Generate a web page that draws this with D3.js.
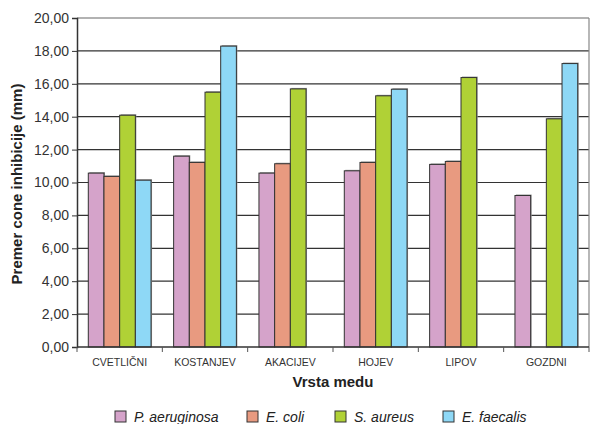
<!DOCTYPE html>
<html>
<head>
<meta charset="utf-8">
<script src="https://cdn.jsdelivr.net/npm/d3@7"></script>
<style>
  body { margin: 0; background: #fff; }
  text { font-family: "Liberation Sans", Arial, sans-serif; }
</style>
</head>
<body>
<div id="myPlot"></div>
<script>
// Set Dimensions
const width = 590;
const height = 424;
const margin = {top: 18, right: 1, bottom: 77, left: 77};
const xMax = width - margin.left - margin.right;
const yMax = height - margin.top - margin.bottom;

// Data
const categories = ["CVETLIČNI", "KOSTANJEV", "AKACIJEV", "HOJEV", "LIPOV", "GOZDNI"];
const seriesNames = ["P. aeruginosa", "E. coli", "S. aureus", "E. faecalis"];
const seriesColors = ["#d5a3ca", "#e89a80", "#b0d136", "#8ed8f6"];
const pAeruginosa = [10.57, 11.60, 10.57, 10.71, 11.10, 9.21];
const eColi = [10.37, 11.22, 11.14, 11.22, 11.28, null];
const sAureus = [14.09, 15.49, 15.69, 15.27, 16.38, 13.87];
const eFaecalis = [10.14, 18.29, null, 15.67, null, 17.23];
const yTicks = [0, 2, 4, 6, 8, 10, 12, 14, 16, 18, 20];

const seriesValues = [pAeruginosa, eColi, sAureus, eFaecalis];

const svg = d3.select("#myPlot")
  .append("svg")
  .attr("width", width)
  .attr("height", height)
  .append("g")
  .attr("transform", `translate(${margin.left},${margin.top})`);

// Scales
const x = d3.scaleBand()
  .domain(categories)
  .range([0, xMax])
  .paddingInner(0)
  .paddingOuter(0);

const x1 = d3.scaleBand()
  .domain(seriesNames)
  .range([0, x.bandwidth()])
  .paddingOuter(0.72)
  .paddingInner(0);

const y = d3.scaleLinear()
  .domain([0, 20])
  .range([yMax, 0]);

const fmt = d => d3.format(".2f")(d).replace(".", ",");

// Gridlines
svg.append("g")
  .selectAll("line")
  .data(yTicks.filter(d => d > 0))
  .join("line")
  .attr("x1", 0)
  .attr("x2", xMax)
  .attr("y1", d => y(d))
  .attr("y2", d => y(d))
  .attr("stroke", d => d === 20 ? "#666" : "#333")
  .attr("stroke-width", 1.2);

// right border
svg.append("line")
  .attr("x1", xMax).attr("x2", xMax)
  .attr("y1", 0).attr("y2", yMax)
  .attr("stroke", "#888")
  .attr("stroke-width", 1.2);

// Bars
const rows = [];
categories.forEach((c, i) => {
  seriesNames.forEach((s, j) => {
    if (seriesValues[j][i] != null) rows.push({cat: c, series: s, value: seriesValues[j][i], color: seriesColors[j]});
  });
});

svg.append("g")
  .selectAll(".shadow")
  .data(rows)
  .join("rect")
  .attr("x", d => x(d.cat) + x1(d.series) + 1)
  .attr("y", d => y(d.value) - 1)
  .attr("width", x1.bandwidth())
  .attr("height", d => yMax - y(d.value) + 1)
  .attr("fill", "#999");

svg.append("g")
  .selectAll(".bar")
  .data(rows)
  .join("rect")
  .attr("class", "bar")
  .attr("x", d => x(d.cat) + x1(d.series))
  .attr("y", d => y(d.value))
  .attr("width", x1.bandwidth())
  .attr("height", d => yMax - y(d.value))
  .attr("fill", d => d.color)
  .attr("stroke", "#333")
  .attr("stroke-width", 1);

// Y Axis
const yAxis = svg.append("g")
  .call(d3.axisLeft(y).tickValues(yTicks).tickFormat(fmt).tickSize(5).tickPadding(3));
yAxis.select(".domain").attr("stroke", "#333").attr("stroke-width", 1.5);
yAxis.selectAll(".tick line").attr("stroke", "#333");
yAxis.selectAll(".tick text")
  .style("font-size", "14px")
  .attr("fill", "#333");

// X Axis
const xAxis = svg.append("g")
  .attr("transform", `translate(0,${yMax})`);
xAxis.append("line")
  .attr("x1", 0).attr("x2", xMax)
  .attr("stroke", "#333").attr("stroke-width", 1.5);
xAxis.selectAll(".xtick")
  .data(categories.slice(1).concat(["end"]))
  .join("line")
  .attr("x1", (d, i) => (i + 1) * x.bandwidth())
  .attr("x2", (d, i) => (i + 1) * x.bandwidth())
  .attr("y1", 0).attr("y2", 5)
  .attr("stroke", "#555");
xAxis.append("line")
  .attr("x1", 0).attr("x2", 0).attr("y1", 0).attr("y2", 5)
  .attr("stroke", "#555");
xAxis.selectAll(".xlabel")
  .data(categories)
  .join("text")
  .attr("x", d => x(d) + x.bandwidth() / 2)
  .attr("y", 19)
  .attr("text-anchor", "middle")
  .style("font-size", "10.5px")
  .attr("fill", "#333")
  .text(d => d);

// Axis titles
svg.append("text")
  .attr("x", xMax / 2)
  .attr("y", yMax + 40)
  .attr("text-anchor", "middle")
  .style("font-size", "15px")
  .style("font-weight", "bold")
  .attr("fill", "#222")
  .text("Vrsta medu");

svg.append("text")
  .attr("transform", "rotate(-90)")
  .attr("x", -166)
  .attr("y", -55)
  .attr("text-anchor", "middle")
  .style("font-size", "15px")
  .style("font-weight", "bold")
  .attr("fill", "#222")
  .text("Premer cone inhibicije (mm)");

// Legend
const legendX = [115, 247, 335, 443];
const legend = d3.select("#myPlot svg").append("g")
  .attr("transform", "translate(0,411)");
const items = legend.selectAll("g")
  .data(seriesNames)
  .join("g")
  .attr("transform", (d, i) => `translate(${legendX[i]},0)`);
items.append("rect")
  .attr("width", 11).attr("height", 11)
  .attr("fill", (d, i) => seriesColors[i])
  .attr("stroke", "#333").attr("stroke-width", 1);
items.append("text")
  .attr("x", 19).attr("y", 11)
  .style("font-size", "14px")
  .style("font-style", "italic")
  .attr("fill", "#222")
  .text(d => d);
</script>
</body>
</html>
